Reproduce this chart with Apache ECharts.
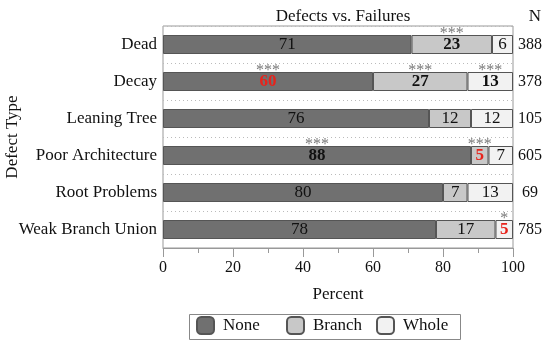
<!DOCTYPE html>
<html><head><meta charset="utf-8">
<script src="https://cdn.jsdelivr.net/npm/echarts@6/dist/echarts.min.js"></script>
<style>html,body{margin:0;padding:0;background:#fff}#c{width:550px;height:345px}</style>
</head><body><div id="c"></div>
<script>
const categories = ['Dead','Decay','Leaning Tree','Poor Architecture','Root Problems','Weak Branch Union'];
const nValues = ['388','378','105','605','69','785'];
const noneVals = [71,60,76,88,80,78];
const branchVals = [23,27,12,5,7,17];
const wholeVals = [6,13,12,7,13,5];
const noneStars = ['','***','','***','',''];
const branchStars = ['***','***','','***','',''];
const wholeStars = ['','***','','','','*'];
const noneRed = [false,true,false,false,false,false];
const branchRed = [false,false,false,true,false,false];
const wholeRed = [false,false,false,false,false,true];
const xTicks = [0,20,40,60,80,100];
const legendNames = ['None','Branch','Whole'];

const FONT = '"Liberation Serif", "DejaVu Serif", serif';
const series = [
  {name:'None', vals:noneVals, stars:noneStars, red:noneRed, color:'#707070'},
  {name:'Branch', vals:branchVals, stars:branchStars, red:branchRed, color:'#c8c8c8'},
  {name:'Whole', vals:wholeVals, stars:wholeStars, red:wholeRed, color:'#f2f2f2'}
];
const out = [];
const cum = categories.map(()=>0);
const starPts = [];
series.forEach(s=>{
  out.push({
    name:s.name, type:'bar', stack:'t', barWidth:19,
    itemStyle:{color:s.color, borderColor:'#555', borderWidth:1},
    label:{show:true, position:'inside', fontFamily:FONT, fontSize:17, color:'#111', formatter:p=>p.value},
    data:s.vals.map((v,i)=>({value:v, label:{fontWeight:s.stars[i]?'bold':'normal', color:s.red[i]?'#e8231b':'#111'}}))
  });
  s.vals.forEach((v,i)=>{
    if (s.stars[i]) starPts.push({value:[cum[i]+v/2, categories[i]], star:s.stars[i]});
    cum[i]+=v;
  });
});
out.push({
  type:'scatter', symbolSize:0, silent:true, z:5,
  label:{show:true, position:'inside', offset:[0,-11], fontSize:16, color:'#555', fontFamily:FONT, formatter:p=>p.data.star},
  data:starPts
});

const legends = legendNames.map((n,i)=>({
  data:[n], left:196 + i*90, top:316, padding:0, itemGap:0,
  itemWidth:17, itemHeight:17, icon:'roundRect',
  textStyle:{fontFamily:FONT, fontSize:17, color:'#111', padding:[0,0,0,4]}
}));

const chart = echarts.init(document.getElementById('c'));
chart.setOption({
  animation:false,
  title:[
    {text:'Defects vs. Failures', left:338, top:3, textAlign:'center', textStyle:{fontFamily:FONT, fontSize:17, fontWeight:'normal', color:'#111'}},
    {text:'N', left:530, top:3, textAlign:'center', textStyle:{fontFamily:FONT, fontSize:17, fontWeight:'normal', color:'#111'}}
  ],
  graphic:[{type:'rect', left:187, top:312, shape:{width:271, height:25}, style:{fill:'none', stroke:'#888', lineWidth:1}, silent:true}],
  grid:{left:163, right:37, top:26, bottom:97, show:true, borderColor:'#999', borderWidth:1, containLabel:false, outerBoundsMode:'none'},
  legend:legends,
  xAxis:{
    type:'value', min:0, max:100, interval:20,
    name:'Percent', nameLocation:'middle', nameGap:38, nameMoveOverlap:false,
    nameTextStyle:{fontFamily:FONT, fontSize:17, color:'#111'},
    axisLine:{show:true, lineStyle:{color:'#999'}},
    axisTick:{show:true, length:9, lineStyle:{color:'#999'}},
    minorTick:{show:true, splitNumber:2, length:5, lineStyle:{color:'#999'}},
    splitLine:{show:false},
    axisLabel:{fontFamily:FONT, fontSize:16, color:'#111', margin:12, formatter:v=>xTicks.includes(v)?String(v):''}
  },
  yAxis:[{
    type:'category', data:categories, inverse:true,
    name:'Defect Type', nameLocation:'middle', nameGap:150, nameRotate:90, nameMoveOverlap:false,
    nameTextStyle:{fontFamily:FONT, fontSize:17, color:'#111', verticalAlign:'middle'},
    axisLine:{show:false}, axisTick:{show:false},
    splitLine:{show:true, interval:0, lineStyle:{color:'#bbb', type:[1,3], width:1}},
    axisLabel:{fontFamily:FONT, fontSize:17, color:'#111', margin:6}
  },{
    type:'category', data:nValues, inverse:true, position:'right',
    axisLine:{show:false}, axisTick:{show:false}, splitLine:{show:false},
    axisLabel:{fontFamily:FONT, fontSize:16, color:'#111', margin:17, align:'center'}
  }],
  series:out
});
</script></body></html>
